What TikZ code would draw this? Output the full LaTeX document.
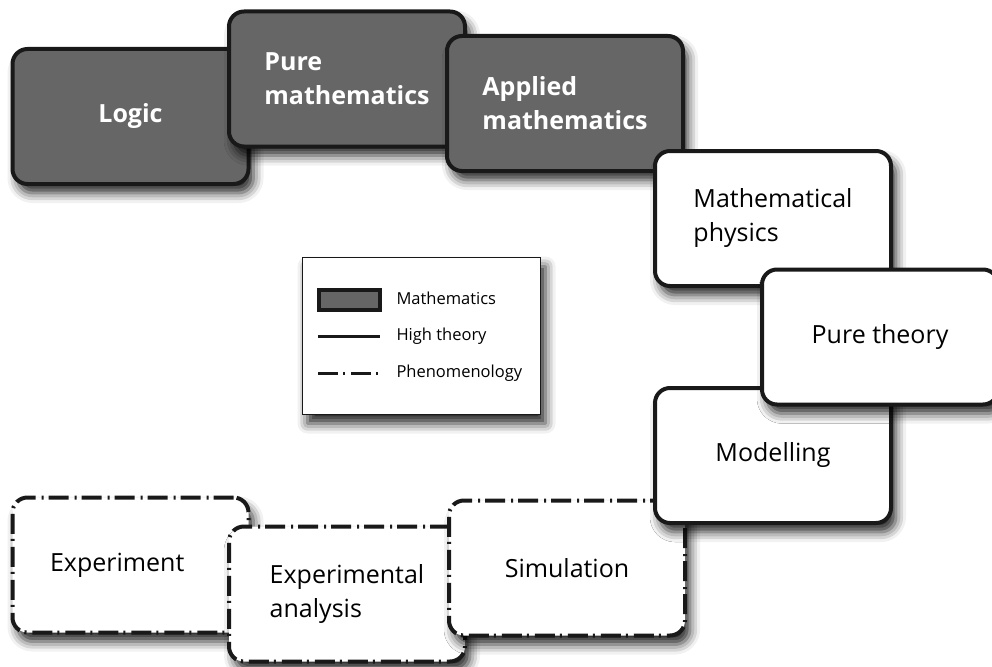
\documentclass[tikz,border=0pt]{standalone}
\usepackage{fontspec}
\setmainfont{Open Sans}
\usetikzlibrary{shadows.blur}

\tikzset{
  card/.style={draw=black!90, line width=4pt, rounded corners=15pt, fill=white,
    minimum width=236pt, minimum height=135pt, align=left,
    font=\fontsize{25}{34}\selectfont,
    blur shadow={shadow xshift=5pt, shadow yshift=-9pt, shadow blur radius=10pt, shadow opacity=85}},
  mathcard/.style={card, fill=black!60, text=white, font=\fontsize{25}{34}\selectfont\bfseries},
  phenocard/.style={card, dash pattern=on 20pt off 5pt on 2pt off 6pt},
  keytext/.style={anchor=west, font=\fontsize{16.5}{19}\selectfont},
}

\begin{document}
\begin{tikzpicture}[x=1pt,y=-1pt]

\useasboundingbox (0,0) rectangle (992,666);

% mathematics
\node[mathcard] (logic)   at (130.5,116.5) {Logic};
\node[mathcard] (puremath) at (347,79)     {Pure\\mathematics};
\node[mathcard] (applied) at (565,103.5)   {Applied\\mathematics};

% phenomenology
\node[phenocard, text width=161pt] (experiment) at (130.5,565) {Experiment};
\node[phenocard] (analysis)   at (347,594)   {Experimental\\analysis};
\node[phenocard] (simulation) at (567,568)   {Simulation};

% high theory
\node[card] (mathphys)  at (773,218.5) {Mathematical\\physics};
\node[card] (modelling) at (773,455.5) {Modelling};
\node[card] (puretheory) at (880,337)  {Pure theory};

% key
\node[draw=black!90, line width=1.5pt, fill=white, minimum width=238pt, minimum height=157pt,
  blur shadow={shadow xshift=5pt, shadow yshift=-9pt, shadow blur radius=10pt, shadow opacity=85}]
  (key) at (421.5,336) {};
\node[draw=black!90, line width=3.5pt, fill=black!60, minimum width=61pt, minimum height=20pt, inner sep=0pt]
  (keymath) at (349.5,300) {};
\node[keytext] (keymathtxt) at (393,298) {Mathematics};
\node[keytext] (keytheorytxt) at (393,336) {High theory};
\node[keytext] (keyphenotxt) at (393,373) {Phenomenology};

\draw[line width=3pt, black!90] (318,336) -- (380,336);
\draw[line width=3pt, black!90, dash pattern=on 20pt off 5pt on 2pt off 6pt] (318,373) -- (380,373);

\end{tikzpicture}
\end{document}
